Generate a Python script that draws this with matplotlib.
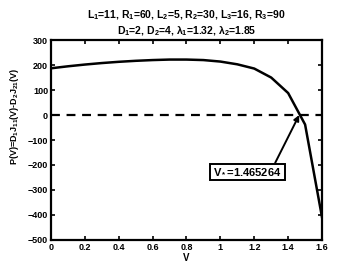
import matplotlib
matplotlib.use("Agg")
import matplotlib.pyplot as plt

plt.rcParams['font.family'] = 'Liberation Sans'
plt.rcParams['font.weight'] = 'bold'
plt.rcParams['mathtext.fontset'] = 'custom'
plt.rcParams['mathtext.rm'] = 'Liberation Sans:bold'
plt.rcParams['mathtext.bf'] = 'Liberation Sans:bold'
plt.rcParams['mathtext.it'] = 'Liberation Sans:bold'
plt.rcParams['mathtext.default'] = 'bf'

# values
V = [0.0, 0.1, 0.2, 0.3, 0.4, 0.5, 0.6, 0.7, 0.8, 0.9, 1.0, 1.1, 1.2, 1.3, 1.4, 1.5, 1.6]
P = [187, 195, 202, 208, 213, 217, 220, 222, 222, 220, 214, 203, 186, 150, 88, -38, -410]
v_star = 1.465264
xticks = [0, 0.2, 0.4, 0.6, 0.8, 1, 1.2, 1.4, 1.6]
xticklabels = ['0', '0.2', '0.4', '0.6', '0.8', '1', '1.2', '1.4', '1.6']
yticks = [-500, -400, -300, -200, -100, 0, 100, 200, 300]

fig = plt.figure(figsize=(3.39, 2.69), dpi=100)
ax = fig.add_axes([0.150, 0.108, 0.800, 0.743])

ax.plot(V, P, color='black', lw=1.8)
ax.axhline(0, color='black', lw=1.6, ls=(0, (4, 3)))

ax.set_xlim(0, 1.6)
ax.set_ylim(-500, 300)
ax.set_xticks(xticks)
ax.set_xticklabels(xticklabels)
ax.set_yticks(yticks)
ax.tick_params(direction='in', length=3, width=1.2, labelsize=6.5, pad=2,
               top=True, right=True)
for lab in ax.get_xticklabels() + ax.get_yticklabels():
    lab.set_fontweight('bold')
for s in ax.spines.values():
    s.set_linewidth(1.6)

ax.set_xlabel('V', fontsize=7, fontweight='bold', labelpad=1)
ax.set_ylabel('P(V)=D$_1$J$_{11}$(V)-D$_2$J$_{21}$(V)', fontsize=6.5, fontweight='bold')
ax.yaxis.set_label_coords(-0.11, 0.62)

ax.set_title('L$_1$=11, R$_1$=60, L$_2$=5, R$_2$=30, L$_3$=16, R$_3$=90\n'
             'D$_1$=2, D$_2$=4, λ$_1$=1.32, λ$_2$=1.85',
             fontsize=7.5, fontweight='bold', pad=4, linespacing=1.3)

ax.annotate('V$_*$=1.465264', xy=(v_star, 0), xytext=(1.158, -228),
            fontsize=8, fontweight='bold', ha='center', va='center',
            bbox=dict(boxstyle='square,pad=0.3', fc='white', ec='black', lw=1.4),
            arrowprops=dict(arrowstyle='-|>', color='black', lw=1.4,
                            mutation_scale=8, shrinkA=0, shrinkB=0,
                            relpos=(0.88, 1.0)))

fig.savefig('out.png', dpi=100)
